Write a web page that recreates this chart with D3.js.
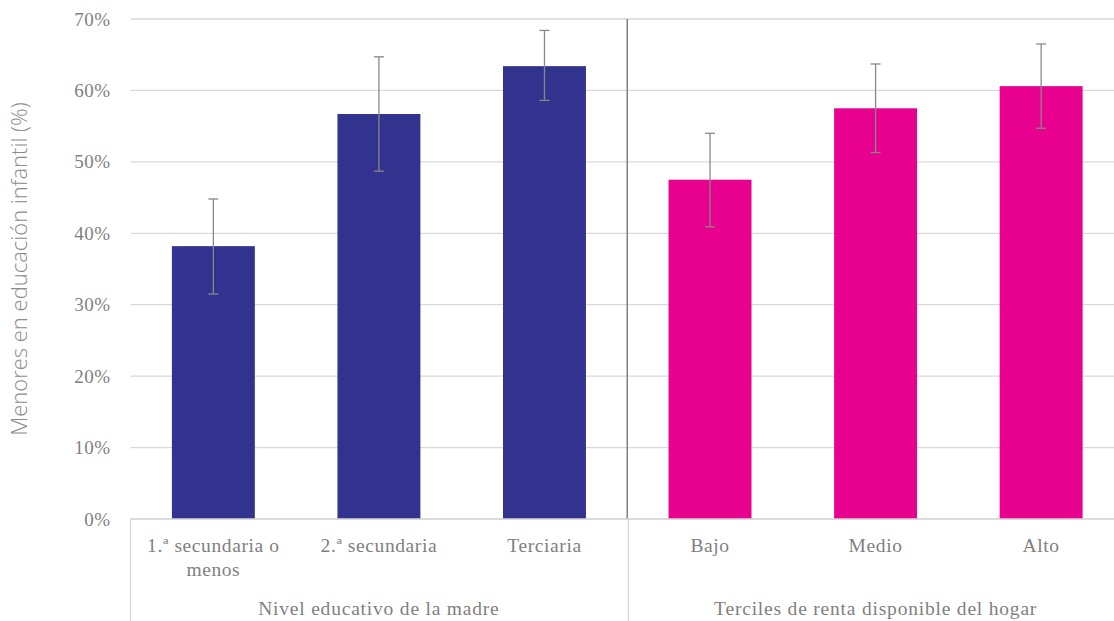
<!DOCTYPE html>
<html><head><meta charset="utf-8">
<script src="https://cdn.jsdelivr.net/npm/d3@7"></script>
<style>body{margin:0;background:#fff;} svg{display:block;}</style>
</head><body>
<svg id="c" width="1114" height="621"></svg>
<script>
const categories = ["1.ª secundaria o menos","2.ª secundaria","Terciaria","Bajo","Medio","Alto"];
const catLines = [["1.ª secundaria o","menos"],["2.ª secundaria"],["Terciaria"],["Bajo"],["Medio"],["Alto"]];
const groups = ["Nivel educativo de la madre","Terciles de renta disponible del hogar"];
const groupOf = [0,0,0,1,1,1];
const values = [0.382,0.567,0.634,0.475,0.575,0.606];
const errLow = [0.315,0.487,0.586,0.409,0.513,0.547];
const errHigh = [0.448,0.647,0.684,0.540,0.637,0.665];
const yTicks = [0,0.1,0.2,0.3,0.4,0.5,0.6,0.7];
const groupColors = ["#32338f","#e8008e"];
const yTitle = "Menores en educación infantil (%)";

const svg = d3.select("#c");
const pL = 130.5, pR = 1124, pT = 19, pB = 519, W = 1114;
const x = d3.scaleBand().domain(categories).range([pL, pR]).paddingInner(0.499).paddingOuter(0.25);
const y = d3.scaleLinear().domain([0,0.7]).range([pB, pT]);
const serif = "'Liberation Serif', 'DejaVu Serif', serif";
const txt = "#7f7f7f";

// gridlines
svg.append("g").selectAll("line").data(yTicks).join("line")
  .attr("x1", pL).attr("x2", W)
  .attr("y1", d=>y(d)).attr("y2", d=>y(d))
  .attr("stroke", "#d9d9d9").attr("stroke-width", 1.3);

// y axis labels
const yAxis = d3.axisLeft(y).tickValues(yTicks).tickFormat(d3.format(".0%")).tickSize(0).tickPadding(0);
const ya = svg.append("g").attr("transform", `translate(${pL-20},0)`).call(yAxis);
ya.select(".domain").remove();
ya.selectAll("text").attr("font-family", serif).attr("font-size", 19).attr("letter-spacing", 0.5).attr("fill", txt);

// bars
svg.append("g").selectAll("rect").data(categories).join("rect")
  .attr("x", d=>x(d)).attr("width", x.bandwidth())
  .attr("y", (d,i)=>y(values[i])).attr("height", (d,i)=>y(0)-y(values[i]))
  .attr("fill", (d,i)=>groupColors[groupOf[i]]);

// error bars
const eb = svg.append("g").attr("stroke", "#888").attr("stroke-width", 1.3);
categories.forEach((c,i)=>{
  const cx = x(c) + x.bandwidth()/2;
  eb.append("line").attr("x1",cx).attr("x2",cx).attr("y1",y(errLow[i])).attr("y2",y(errHigh[i]));
  eb.append("line").attr("x1",cx-5).attr("x2",cx+5).attr("y1",y(errLow[i])).attr("y2",y(errLow[i]));
  eb.append("line").attr("x1",cx-5).attr("x2",cx+5).attr("y1",y(errHigh[i])).attr("y2",y(errHigh[i]));
});

// separator between groups
const sx = (x(categories[2]) + x.bandwidth() + x(categories[3]))/2;
svg.append("line").attr("x1", sx).attr("x2", sx).attr("y1", pT).attr("y2", pB)
  .attr("stroke", "#808080").attr("stroke-width", 1.5);
// multi-level axis lines
svg.append("line").attr("x1", pL).attr("x2", W).attr("y1", pB).attr("y2", pB)
  .attr("stroke", "#d9d9d9").attr("stroke-width", 1.3);
[pL, sx+1].forEach(xx=>{
  svg.append("line").attr("x1", xx).attr("x2", xx).attr("y1", pB).attr("y2", 621)
    .attr("stroke", "#d9d9d9").attr("stroke-width", 1.3);
});

// category labels
const cl = svg.append("g").attr("font-family", serif).attr("font-size", 19.5).attr("letter-spacing", 0.6).attr("fill", txt).attr("text-anchor","middle");
categories.forEach((c,i)=>{
  const cx = x(c) + x.bandwidth()/2;
  const t = cl.append("text").attr("x", cx).attr("y", 552);
  catLines[i].forEach((ln,j)=>{
    t.append("tspan").attr("x", cx).attr("dy", j===0?0:24).text(ln);
  });
});

// group labels
groups.forEach((g,gi)=>{
  const x0 = gi===0 ? pL : sx;
  const x1 = gi===0 ? sx : pR;
  svg.append("text").attr("x", (x0+x1)/2).attr("y", 615)
    .attr("text-anchor","middle").attr("font-family", serif).attr("font-size", 19.5).attr("letter-spacing", 0.8).attr("fill", txt).text(g);
});

// y title
svg.append("text").attr("transform", `translate(27,${(pT+pB)/2+0}) rotate(-90)`)
  .attr("text-anchor","middle").attr("font-family","'Open Sans', 'Noto Sans', sans-serif")
  .attr("font-weight", 300).attr("font-size", 22).attr("fill", "#8c8c8c").text(yTitle);
</script>
</body></html>
